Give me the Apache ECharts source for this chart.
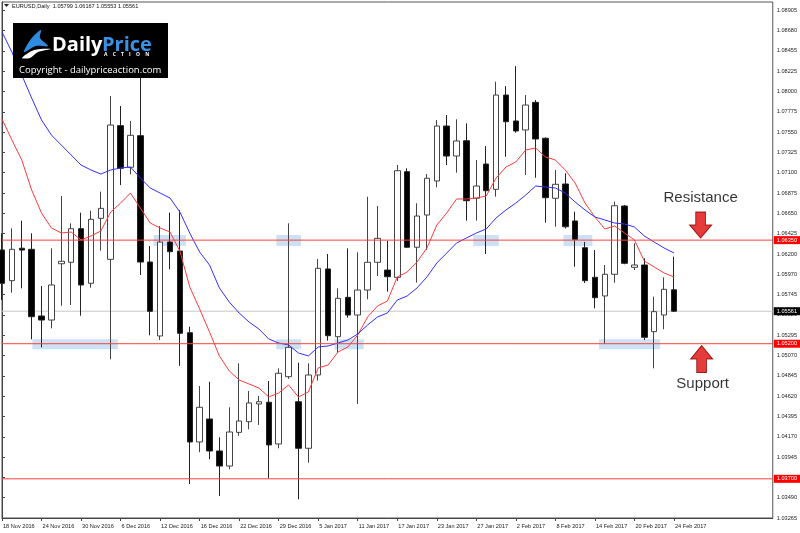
<!DOCTYPE html>
<html>
<head>
<meta charset="utf-8">
<script src="https://cdn.jsdelivr.net/npm/echarts@6/dist/echarts.min.js"></script>
<style>
  html, body { margin: 0; padding: 0; background: #fff; }
  #main { width: 800px; height: 533px; }
</style>
</head>
<body>
<div id="main"></div>
<script>
// Daily bars, 18 Nov 2016 - 24 Feb 2017
const dates = [
  '18 Nov 2016', '21 Nov 2016', '22 Nov 2016', '23 Nov 2016', '24 Nov 2016', '25 Nov 2016', '28 Nov 2016', '29 Nov 2016',
  '30 Nov 2016', '1 Dec 2016', '2 Dec 2016', '5 Dec 2016', '6 Dec 2016', '7 Dec 2016', '8 Dec 2016', '9 Dec 2016',
  '12 Dec 2016', '13 Dec 2016', '14 Dec 2016', '15 Dec 2016', '16 Dec 2016', '19 Dec 2016', '20 Dec 2016', '21 Dec 2016',
  '22 Dec 2016', '23 Dec 2016', '27 Dec 2016', '28 Dec 2016', '29 Dec 2016', '30 Dec 2016', '3 Jan 2017', '4 Jan 2017',
  '5 Jan 2017', '6 Jan 2017', '9 Jan 2017', '10 Jan 2017', '11 Jan 2017', '12 Jan 2017', '13 Jan 2017', '16 Jan 2017',
  '17 Jan 2017', '18 Jan 2017', '19 Jan 2017', '20 Jan 2017', '23 Jan 2017', '24 Jan 2017', '25 Jan 2017', '26 Jan 2017',
  '27 Jan 2017', '30 Jan 2017', '31 Jan 2017', '1 Feb 2017', '2 Feb 2017', '3 Feb 2017', '6 Feb 2017', '7 Feb 2017',
  '8 Feb 2017', '9 Feb 2017', '10 Feb 2017', '13 Feb 2017', '14 Feb 2017', '15 Feb 2017', '16 Feb 2017', '17 Feb 2017',
  '20 Feb 2017', '21 Feb 2017', '22 Feb 2017', '23 Feb 2017', '24 Feb 2017'
];

const opens = [
  1.06241, 1.05900, 1.06260, 1.06248, 1.05508, 1.05463, 1.06088, 1.06104, 1.06477, 1.05871,
  1.06592, 1.06137, 1.07621, 1.07159, 1.07510, 1.06107, 1.05286, 1.06329, 1.06229, 1.05322,
  1.04109, 1.04364, 1.04009, 1.03842, 1.04216, 1.04334, 1.04531, 1.04550, 1.04087, 1.04834,
  1.04556, 1.04039, 1.04853, 1.06030, 1.05278, 1.05715, 1.05519, 1.05796, 1.06104, 1.06018,
  1.05937, 1.07110, 1.06271, 1.06629, 1.07007, 1.07617, 1.07284, 1.07454, 1.06815, 1.07195,
  1.06914, 1.07961, 1.07673, 1.07573, 1.07880, 1.07481, 1.06815, 1.06973, 1.06563, 1.06266,
  1.05937, 1.05730, 1.05971, 1.06729, 1.06048, 1.06074, 1.05334, 1.05519, 1.05799
];
const highs = [
  1.06426, 1.06481, 1.06566, 1.06426, 1.05841, 1.06259, 1.06840, 1.06537, 1.06655, 1.06677,
  1.06888, 1.07950, 1.07839, 1.07673, 1.08740, 1.06285, 1.06507, 1.06655, 1.06685, 1.05389,
  1.04731, 1.04778, 1.04161, 1.04494, 1.04983, 1.04675, 1.04620, 1.04786, 1.04927, 1.06537,
  1.04989, 1.04983, 1.06141, 1.06196, 1.05815, 1.06259, 1.06215, 1.06832, 1.06729, 1.06344,
  1.07184, 1.07148, 1.06759, 1.07084, 1.07684, 1.07739, 1.07692, 1.07647, 1.07240, 1.07395,
  1.08109, 1.08061, 1.08283, 1.07961, 1.07906, 1.07492, 1.07129, 1.07092, 1.06666, 1.06330,
  1.06240, 1.06074, 1.06777, 1.06740, 1.06315, 1.06148, 1.05722, 1.05937, 1.06167
];
const lows = [
  1.05685, 1.05766, 1.05815, 1.05249, 1.05160, 1.05371, 1.05622, 1.05630, 1.05511, 1.05822,
  1.06233, 1.05027, 1.06962, 1.07081, 1.05963, 1.05294, 1.05241, 1.06026, 1.04953, 1.03643,
  1.03995, 1.03917, 1.03509, 1.03806, 1.04176, 1.04250, 1.04298, 1.03706, 1.04039, 1.04810,
  1.03473, 1.03879, 1.04790, 1.05234, 1.05100, 1.05489, 1.04531, 1.05693, 1.05952, 1.05778,
  1.05896, 1.06263, 1.05878, 1.06241, 1.06937, 1.07184, 1.07099, 1.06566, 1.06566, 1.06196,
  1.06832, 1.07276, 1.07543, 1.07073, 1.07043, 1.06544, 1.06499, 1.06479, 1.06055, 1.05874,
  1.05593, 1.05197, 1.05878, 1.06082, 1.06018, 1.05241, 1.04927, 1.05360, 1.05553
];
const closes = [
  1.05871, 1.06248, 1.06240, 1.05500, 1.05463, 1.05852, 1.06115, 1.06477, 1.05852, 1.06581,
  1.06703, 1.07628, 1.07148, 1.07514, 1.06107, 1.05560, 1.06329, 1.06222, 1.05316, 1.04109,
  1.04494, 1.04009, 1.03842, 1.04220, 1.04342, 1.04542, 1.04556, 1.04076, 1.04872, 1.05160,
  1.04039, 1.04853, 1.06037, 1.05289, 1.05704, 1.05519, 1.05796, 1.06104, 1.06370, 1.05944,
  1.07121, 1.06271, 1.06618, 1.07037, 1.07617, 1.07284, 1.07451, 1.06788, 1.06951, 1.06899,
  1.07961, 1.07665, 1.07562, 1.07850, 1.07473, 1.06821, 1.06970, 1.06499, 1.06359, 1.05900,
  1.05711, 1.05971, 1.06732, 1.06093, 1.06074, 1.05271, 1.05556, 1.05804, 1.05561
];

// moving averages as drawn on the chart (red = fast, blue = slow)
const maFast = [
  1.07695, 1.07462, 1.07240, 1.06907, 1.06651, 1.06485, 1.06429, 1.06440, 1.06352, 1.06396,
  1.06451, 1.06662, 1.06762, 1.06873, 1.06707, 1.06540, 1.06485, 1.06440, 1.06229, 1.05830,
  1.05586, 1.05330, 1.05064, 1.04897, 1.04797, 1.04753, 1.04708, 1.04609, 1.04653, 1.04742,
  1.04609, 1.04664, 1.04931, 1.04964, 1.05108, 1.05164, 1.05297, 1.05497, 1.05619, 1.05674,
  1.05941, 1.05996, 1.06107, 1.06263, 1.06518, 1.06651, 1.06807, 1.06807, 1.06818, 1.06840,
  1.07040, 1.07162, 1.07218, 1.07351, 1.07373, 1.07273, 1.07240, 1.07129, 1.06984, 1.06762,
  1.06607, 1.06474, 1.06507, 1.06429, 1.06352, 1.06118, 1.06052, 1.05985, 1.05941
];
const maSlow = [
  1.08661, 1.08439, 1.08183, 1.07928, 1.07684, 1.07517, 1.07406, 1.07295, 1.07184, 1.07129,
  1.07084, 1.07129, 1.07151, 1.07162, 1.07040, 1.06929, 1.06873, 1.06818, 1.06662, 1.06429,
  1.06218, 1.06074, 1.05819, 1.05663, 1.05541, 1.05441, 1.05363, 1.05252, 1.05208, 1.05186,
  1.05097, 1.05064, 1.05164, 1.05175, 1.05208, 1.05241, 1.05308, 1.05408, 1.05497, 1.05541,
  1.05685, 1.05730, 1.05819, 1.05941, 1.06096, 1.06207, 1.06318, 1.06374, 1.06429, 1.06474,
  1.06596, 1.06685, 1.06762, 1.06851, 1.06951, 1.06940, 1.06929, 1.06873, 1.06773, 1.06685,
  1.06607, 1.06574, 1.06540, 1.06529, 1.06496, 1.06396, 1.06329, 1.06263, 1.06207
];

// horizontal levels and the last price
const levels = [1.06350, 1.05200, 1.03700];
const lastPrice = 1.05561;

// y axis ticks and their labels, bottom to top
const yTickStart = 1.03265;
const yTickStep = 0.002255;
const yTickLabels = [
  '1.03265', '1.03490', '1.03715', '1.03945', '1.04170', '1.04395', '1.04620', '1.04845', '1.05070',
  '1.05295', '1.05520', '1.05745', '1.05970', '1.06200', '1.06425', '1.06650', '1.06875', '1.07100',
  '1.07325', '1.07550', '1.07775', '1.08000', '1.08225', '1.08455', '1.08680', '1.08905'
];

// highlighted zones: [from bar, to bar, low price, high price]
const zones = [
  [3.07, 11.72, 1.05138, 1.05249],
  [15.33, 18.61, 1.06285, 1.06407],
  [27.76, 30.26, 1.06285, 1.06407],
  [27.76, 30.26, 1.05138, 1.05249],
  [33.64, 36.61, 1.05138, 1.05249],
  [47.69, 50.28, 1.06285, 1.06407],
  [56.81, 59.75, 1.06285, 1.06407],
  [60.42, 66.60, 1.05138, 1.05249]
];

// text notes and arrows: [bar, price]
const notes = [
  { text: 'Resistance', at: [70.7, 1.06818] },
  { text: 'Support', at: [70.9, 1.04753] }
];
const arrowsDown = [[70.7, 1.06518]];
const arrowsUp = [[70.8, 1.05030]];

const emptyBars = 10;
const categories = dates.concat(new Array(emptyBars).fill(''));
const lastIndex = categories.length - 1;
const ohlc = dates.map((d, i) => [opens[i], closes[i], lows[i], highs[i]]);

const axisFont = 'Liberation Sans';
const showDate = (i, v) => i % 4 === 0 && v !== '';

// a full-width horizontal line with a price tag on the axis
function priceLine(name, value, color, tagColor, z) {
  return {
    name: name,
    type: 'line',
    xAxisIndex: 1,
    data: [[0, value], [lastIndex, value]],
    symbol: 'none',
    silent: true,
    z: z,
    lineStyle: { color: color, width: 1 },
    endLabel: {
      show: true, distance: 1, fontSize: 5.6, fontFamily: axisFont, color: '#fff',
      backgroundColor: tagColor, padding: [1, 3, 1, 3], formatter: () => value.toFixed(5)
    }
  };
}

var myChart = echarts.init(document.getElementById('main'));

const option = {
  animation: false,
  backgroundColor: '#fff',
  grid: { left: 2, right: 27, top: 2, bottom: 15, show: true, borderColor: '#555', borderWidth: 1, backgroundColor: '#fff' },
  xAxis: [
    {
      type: 'category',
      data: categories,
      boundaryGap: false,
      axisLine: { lineStyle: { color: '#444' } },
      axisTick: { show: true, length: 3, interval: showDate, lineStyle: { color: '#444' } },
      axisLabel: { interval: showDate, align: 'left', margin: 5, fontSize: 5.6, color: '#222', fontFamily: axisFont, padding: [0, 0, 0, 1] },
      splitLine: { show: false }
    },
    { type: 'value', min: 0, max: lastIndex, show: false }
  ],
  yAxis: {
    type: 'value',
    position: 'right',
    min: yTickStart,
    max: 1.08994,
    interval: yTickStep,
    axisLine: { show: true, lineStyle: { color: '#444' } },
    axisTick: { show: true, length: 3, lineStyle: { color: '#444' } },
    axisLabel: {
      showMaxLabel: false, fontSize: 5.6, color: '#222', margin: 4, fontFamily: axisFont,
      formatter: v => yTickLabels[Math.round((v - yTickStart) / yTickStep)] || ''
    },
    splitLine: { show: false }
  },
  series: [
    {
      name: 'zones',
      type: 'line',
      xAxisIndex: 1,
      data: [],
      z: 1,
      markArea: {
        silent: true,
        itemStyle: { color: 'rgba(160,200,235,0.55)' },
        data: zones.map(z => [{ xAxis: z[0], yAxis: z[2] }, { xAxis: z[1], yAxis: z[3] }])
      }
    },
    priceLine('last', lastPrice, '#c8c8c8', '#000', 2),
    {
      name: 'EURUSD',
      type: 'candlestick',
      data: ohlc,
      barWidth: 6,
      z: 3,
      itemStyle: { color: '#fff', color0: '#000', borderColor: '#444', borderColor0: '#222', borderWidth: 1 }
    },
    {
      name: 'MA fast',
      type: 'line',
      data: maFast,
      symbol: 'none',
      z: 4,
      lineStyle: { color: '#ff3b3b', width: 1 }
    },
    {
      name: 'MA slow',
      type: 'line',
      data: maSlow,
      symbol: 'none',
      z: 4,
      lineStyle: { color: '#3030ff', width: 1 }
    }
  ].concat(levels.map((v, i) => priceLine('level ' + i, v, '#ff4040', '#ff0000', 5))).concat([
    {
      name: 'notes',
      type: 'scatter',
      xAxisIndex: 1,
      symbolSize: 0,
      z: 6,
      data: notes.map(n => ({ value: n.at, name: n.text })),
      label: { show: true, position: 'inside', formatter: p => p.name, fontSize: 15, color: '#000', fontFamily: 'Liberation Sans' }
    },
    {
      name: 'arrow down',
      type: 'scatter',
      xAxisIndex: 1,
      z: 6,
      symbol: 'path://M5,0 L13,0 L13,12 L18,12 L9,24 L0,12 L5,12 Z',
      symbolSize: [22, 26],
      itemStyle: { color: '#e00a0a', borderColor: '#8a0000', borderWidth: 1 },
      data: arrowsDown
    },
    {
      name: 'arrow up',
      type: 'scatter',
      xAxisIndex: 1,
      z: 6,
      symbol: 'path://M9,0 L18,12 L13,12 L13,24 L5,24 L5,12 L0,12 Z',
      symbolSize: [22, 27],
      itemStyle: { color: '#e00a0a', borderColor: '#8a0000', borderWidth: 1 },
      data: arrowsUp
    }
  ]),
  graphic: [
    { type: 'polygon', z: 100, shape: { points: [[4, 4], [9, 4], [6.5, 7]] }, style: { fill: '#222' } },
    { type: 'text', z: 100, x: 12, y: 6, style: { text: 'EURUSD,Daily  1.05799 1.06167 1.05553 1.05561', font: '5.6px "Liberation Sans"', fill: '#111', verticalAlign: 'middle' } },
    // logo
    { type: 'rect', z: 100, shape: { x: 13, y: 23, width: 155, height: 55 }, style: { fill: '#000' } },
    { type: 'polygon', z: 101, shape: { smooth: 0.3, points: [[24, 52], [31, 39], [41, 30], [40, 38], [48, 46], [36, 46]] }, style: { fill: '#2f8ae0' } },
    { type: 'polygon', z: 101, shape: { smooth: 0.3, points: [[22, 58], [34, 50], [51, 49], [38, 52], [30, 58]] }, style: { fill: '#fff' } },
    { type: 'text', z: 101, x: 52, y: 45, style: { text: 'Daily', font: 'bold 20px "Open Sans"', fill: '#fff', verticalAlign: 'middle' } },
    { type: 'text', z: 101, x: 102, y: 45, style: { text: 'Price', font: 'bold 20px "Open Sans"', fill: '#3a92e4', verticalAlign: 'middle' } },
    { type: 'text', z: 101, x: 104, y: 55, style: { text: 'A    C    T    I    O    N', font: 'bold 5px "Open Sans"', fill: '#fff', verticalAlign: 'middle' } },
    { type: 'text', z: 101, x: 19, y: 70, style: { text: 'Copyright - dailypriceaction.com', font: '9.5px "Open Sans"', fill: '#fff', verticalAlign: 'middle' } }
  ]
};

myChart.setOption(option);
</script>
</body>
</html>
